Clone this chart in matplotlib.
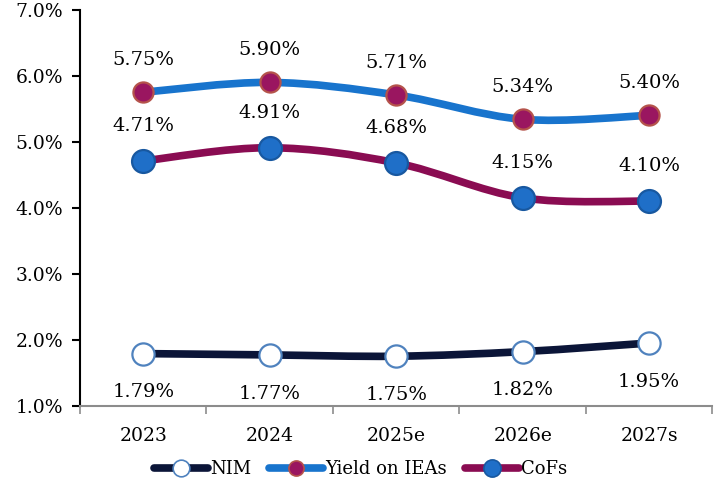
import matplotlib
matplotlib.use("Agg")
import matplotlib.pyplot as plt
from matplotlib.path import Path
from matplotlib.patches import PathPatch
from matplotlib.lines import Line2D
from matplotlib.ticker import FixedLocator, PercentFormatter

years = ["2023", "2024", "2025e", "2026e", "2027s"]
nim = [1.79, 1.77, 1.75, 1.82, 1.95]
yield_ieas = [5.75, 5.90, 5.71, 5.34, 5.40]
cofs = [4.71, 4.91, 4.68, 4.15, 4.10]

NAVY = "#0B1538"
BLUE = "#1874CD"
MAROON = "#8A0C52"

plt.rcParams.update({
    "font.family": "DejaVu Serif",
    "font.size": 13.5,
})


def smooth(ax, xs, ys, color, lw):
    # Catmull-Rom style bezier through the data points
    n = len(xs)
    verts = [(xs[0], ys[0])]
    codes = [Path.MOVETO]
    t = 1 / 6
    for i in range(n - 1):
        x0, y0 = xs[max(i - 1, 0)], ys[max(i - 1, 0)]
        x1, y1 = xs[i], ys[i]
        x2, y2 = xs[i + 1], ys[i + 1]
        x3, y3 = xs[min(i + 2, n - 1)], ys[min(i + 2, n - 1)]
        verts += [(x1 + (x2 - x0) * t, y1 + (y2 - y0) * t),
                  (x2 - (x3 - x1) * t, y2 - (y3 - y1) * t),
                  (x2, y2)]
        codes += [Path.CURVE4] * 3
    ax.add_patch(PathPatch(Path(verts, codes), fill=False, ec=color, lw=lw,
                           capstyle="round", zorder=2))


fig = plt.figure(figsize=(7.21, 4.9), dpi=100)
ax = fig.add_axes([0.111, 0.172, 0.877, 0.808])
x = list(range(len(years)))

series = [
    ("NIM", nim, NAVY, "white", "#4F82BE", 16),
    ("Yield on IEAs", yield_ieas, BLUE, "#9A1660", "#B5534B", 14.5),
    ("CoFs", cofs, MAROON, "#1F6FC8", "#1858A0", 16.5),
]
handles = []
for name, vals, lc, fc, ec, ms in series:
    smooth(ax, x, vals, lc, 5.5)
    ax.plot(x, vals, ls="none", marker="o", ms=ms, mfc=fc, mec=ec, mew=1.6, zorder=3)
    handles.append(Line2D([], [], color=lc, lw=5.5, marker="o", ms=ms * 0.75,
                          mfc=fc, mec=ec, mew=1.2, solid_capstyle="round"))

for xi, v in zip(x, yield_ieas):
    ax.annotate(f"{v:.2f}%", (xi, v), xytext=(0, 23), textcoords="offset points",
                ha="center", va="center", fontsize=14)
for xi, v in zip(x, cofs):
    ax.annotate(f"{v:.2f}%", (xi, v), xytext=(0, 25), textcoords="offset points",
                ha="center", va="center", fontsize=14)
for xi, v in zip(x, nim):
    ax.annotate(f"{v:.2f}%", (xi, v), xytext=(0, -28), textcoords="offset points",
                ha="center", va="center", fontsize=14)

ax.set_xlim(-0.5, len(years) - 0.5)
ax.set_ylim(1, 7)
ax.set_yticks([1, 2, 3, 4, 5, 6, 7])
ax.yaxis.set_major_formatter(PercentFormatter(decimals=1))
ax.set_xticks(x)
ax.set_xticklabels(years)
ax.xaxis.set_minor_locator(FixedLocator([i - 0.5 for i in range(len(years) + 1)]))
ax.tick_params(axis="x", which="major", length=0, pad=15, labelsize=13.5)
ax.tick_params(axis="x", which="minor", length=6, color="#8C8C8C", width=1.2)
ax.tick_params(axis="y", length=6, width=1.5, color="black", labelsize=13.5, pad=6)
ax.spines["top"].set_visible(False)
ax.spines["right"].set_visible(False)
ax.spines["left"].set_linewidth(1.5)
ax.spines["bottom"].set_color("#8C8C8C")
ax.spines["bottom"].set_linewidth(1.5)

fig.legend(handles, [s[0] for s in series], loc="center", bbox_to_anchor=(0.5, 0.043),
           ncol=3, frameon=False, numpoints=1, handlelength=3.0, handletextpad=0.1,
           columnspacing=1.0, fontsize=13)

fig.savefig("out.png", dpi=100)
